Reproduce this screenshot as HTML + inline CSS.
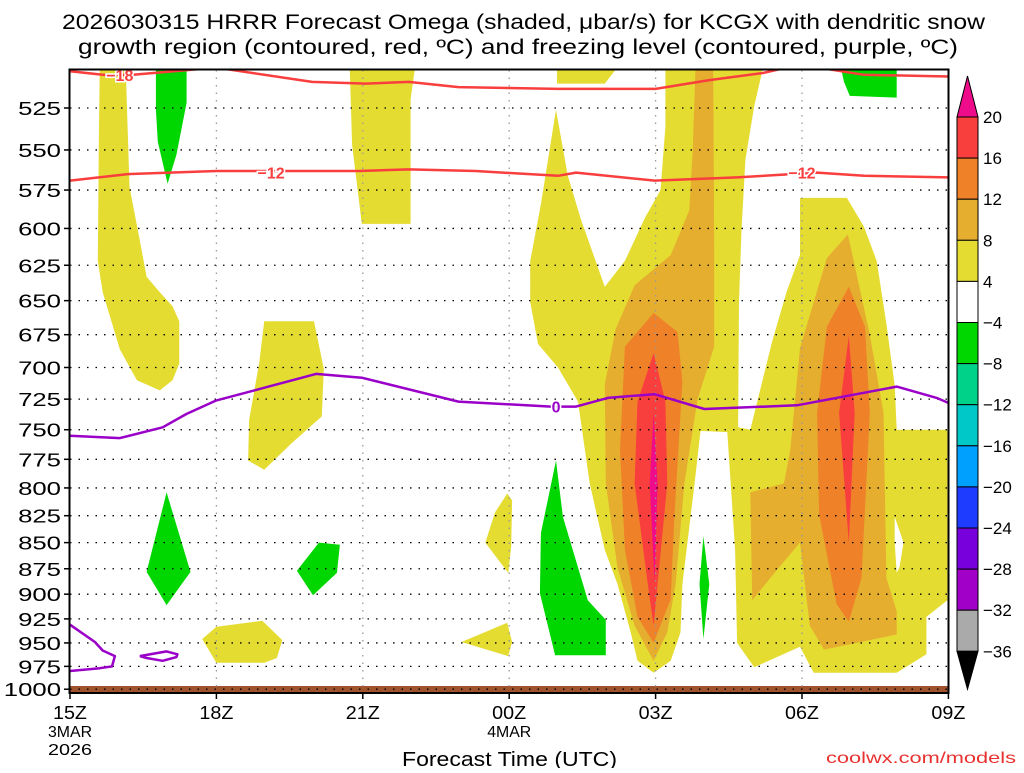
<!DOCTYPE html>
<html><head><meta charset="utf-8"><style>
body{margin:0;background:#fff;width:1024px;height:768px;overflow:hidden;font-family:"Liberation Sans",sans-serif}
svg text{font-family:"Liberation Sans",sans-serif}
</style></head><body>
<svg id="c" width="1024" height="768" xmlns="http://www.w3.org/2000/svg">
<text x="62" y="29" font-size="21" textLength="923" lengthAdjust="spacingAndGlyphs">2026030315 HRRR Forecast Omega (shaded, μbar/s) for KCGX with dendritic snow</text>
<text x="78" y="54" font-size="21" textLength="880" lengthAdjust="spacingAndGlyphs">growth region (contoured, red, ºC) and freezing level (contoured, purple, ºC)</text>
<defs><clipPath id="pc"><rect x="70" y="70" width="879" height="623"/></clipPath></defs>
<g id="fills" clip-path="url(#pc)"></g>
<g id="grid"></g>
<g id="lines" clip-path="url(#pc)"></g>
<rect x="69.5" y="69.5" width="879" height="623.5" fill="none" stroke="#000" stroke-width="2"/>
<g id="axes"></g>
<g id="cbar"></g>
<text x="826" y="763" font-size="16" fill="#e8312f" textLength="190" lengthAdjust="spacingAndGlyphs">coolwx.com/models</text>
<text x="402" y="766" font-size="20" textLength="215" lengthAdjust="spacingAndGlyphs">Forecast Time (UTC)</text>
</svg>
<script>
const NS="http://www.w3.org/2000/svg";
const pressureTicks=[525,550,575,600,625,650,675,700,725,750,775,800,825,850,875,900,925,950,975,1000];
const timeTicks=[0,3,6,9,12,15,18];
const timeLabels=["15Z","18Z","21Z","00Z","03Z","06Z","09Z"];
const cbarLevels=["20","16","12","8","4","−4","−8","−12","−16","−20","−24","−28","−32","−36"];
const cbarColors=["#f93e3e","#ef8229","#e5ae2e","#e5dc32","#ffffff","#00d700","#00d28a","#00c8c8","#00a0ff","#1e3cff","#7800dc","#a000c8","#aaaaaa"];
// omega shaded regions [hour since 15Z, hPa]
const yellowMain=[[12.2,500],[14.22,500],[14.02,524],[13.84,556],[13.76,601],[13.71,651],[13.69,748],[13.94,750],[14.39,680],[14.69,643],[14.96,618],[14.96,580],[15.92,580],[16.27,599],[16.53,622],[16.73,667],[16.9,714],[16.94,750],[17.98,750],[17.98,906],[17.55,923],[17.55,962],[16.94,982],[15.24,982],[14.96,954],[14.02,976],[13.67,950],[13.63,857],[13.47,752],[12.92,751],[12.8,796],[12.55,890],[12.51,939],[12.31,969],[11.96,982],[11.63,969],[11.49,939],[11.22,890],[10.96,857],[10.65,796],[10.41,727],[10.0,700],[9.59,682],[9.43,651],[9.43,622],[9.65,584],[9.96,526],[10.2,566],[10.47,594],[10.96,640],[11.37,622],[11.78,593],[12.1,575],[12.2,536]];
const yellowLeft=[[0.65,500],[1.14,500],[1.22,573],[1.43,608],[1.57,633],[1.84,644],[2.1,654],[2.24,665],[2.24,697],[2.1,710],[1.84,718],[1.37,710],[1.02,686],[0.67,644],[0.57,622],[0.59,546],[0.61,500]];
const yellow21z=[[5.73,500],[7.08,500],[6.98,520],[6.98,597],[5.98,597],[5.78,547]];
const yellow20z=[[3.98,665],[5.0,665],[5.2,701],[5.16,739],[4.55,761],[3.98,784],[3.65,776],[3.67,742],[3.88,696]];
const yellow19z=[[3.0,933],[3.94,927],[4.35,947],[4.24,966],[3.98,971],[3.0,971],[2.71,946]];
const yellow00zA=[[8.96,805],[9.06,811],[9.04,854],[8.98,879],[8.51,850],[8.71,822]];
const yellow00zB=[[8.02,949],[8.96,929],[9.06,949],[8.98,964]];
const yellowTop=[[9.98,500],[11.27,500],[10.96,511],[9.98,511]];
const whiteHole=[[16.9,826],[17.08,850],[17.0,873],[16.94,879],[16.9,850]];
const gold03z=[[12.82,500],[13.18,500],[13.2,614],[13.2,684],[12.86,725],[12.59,796],[12.41,890],[12.24,939],[11.96,969],[11.57,932],[11.22,874],[10.98,796],[10.96,713],[11.18,671],[11.57,639],[12.31,618],[12.69,588],[12.76,550]];
const gold06z=[[15.94,604],[16.39,675],[16.67,736],[16.73,884],[16.94,917],[16.94,941],[16.12,950],[15.45,957],[15.16,932],[14.96,850],[14.49,876],[13.98,906],[13.94,804],[14.63,796],[14.76,767],[14.96,685],[15.51,620]];
const orange03z=[[11.96,659],[12.45,673],[12.55,711],[12.39,823],[12.31,905],[11.96,950],[11.63,923],[11.37,857],[11.27,767],[11.37,684]];
const orange06z=[[15.96,640],[16.29,669],[16.39,736],[16.22,884],[15.96,928],[15.71,910],[15.35,824],[15.31,736],[15.51,669]];
const red03z=[[11.96,689],[12.2,727],[12.24,796],[12.04,890],[11.96,932],[11.84,890],[11.57,796],[11.63,727]];
const red06z=[[15.96,676],[16.08,736],[15.96,850],[15.76,736]];
const magenta03z=[[11.96,737],[12.04,796],[11.98,888],[11.88,796]];
const greenTop=[[1.76,500],[2.39,500],[2.39,522],[2.18,553],[2.0,571],[1.8,545],[1.76,526]];
const greenDiamond=[[1.98,804],[2.47,878],[1.98,911],[1.57,878]];
const greenMid=[[5.1,850],[5.53,852],[5.47,879],[4.98,901],[4.65,877]];
const green01z=[[9.96,776],[10.1,826],[10.61,906],[10.98,926],[10.98,963],[9.94,963],[9.63,899],[9.65,841]];
const green04z=[[12.98,844],[13.1,890],[12.98,946],[12.9,890]];
const greenTopRight=[[15.78,500],[16.94,500],[16.94,519],[15.98,518],[15.86,510]];
// contour lines
const freezing=[[0,755],[1.02,757],[1.9,748],[2.39,737],[3.0,726],[3.88,717],[5.04,705],[5.98,708],[7.96,727],[9.86,731],[10.37,731],[11.02,724],[11.98,721],[13.0,733],[14.9,730],[16.94,715],[17.76,724],[18,728]];
const freezingLow=[[0,931],[0.51,949],[0.67,958],[0.92,964],[0.86,975],[0.61,977],[0,980]];
const freezingLoop=[[1.43,964],[1.98,959],[2.2,962],[2.18,965],[1.9,969],[1.57,966],[1.43,964]];
const minus18=[[0,504],[0.67,506],[1.29,506],[3.0,502],[4.96,510],[6.06,511],[6.94,510],[7.96,513],[10,514],[12,514],[13.1,509],[14.2,505],[14.84,501],[15.57,503],[16.27,506],[18,507]];
const minus12=[[0,569],[1.16,565],[3.0,563],[5.92,563],[6.94,562],[8.31,563],[10,566],[10.37,564],[11.98,569],[13.67,567],[15.31,564],[16.27,566],[18,567]];
const contourLabels=[["−18",1.02,506,"#f93e3e"],["−12",4.12,564,"#f93e3e"],["−12",15.0,564,"#f93e3e"],["0",9.96,731,"#9a00c8"]];

function X(h){return 70+h*48.8;}
function Y(p){return 108+902*Math.log(p/525);}
function mk(tag,attrs,parent){const e=document.createElementNS(NS,tag);for(const k in attrs)e.setAttribute(k,attrs[k]);parent.appendChild(e);return e;}
function pts(a){return a.map(d=>X(d[0]).toFixed(1)+","+Y(d[1]).toFixed(1)).join(" ");}
const fillsG=document.getElementById("fills");
function poly(a,col,name){const e=mk("polygon",{points:pts(a),fill:col},fillsG);

}
poly(yellowMain,"#e5dc32","omega-4-8-main");
poly(yellowLeft,"#e5dc32","omega-4-8-left");
poly(yellow21z,"#e5dc32","omega-4-8-21z");
poly(yellow20z,"#e5dc32","omega-4-8-20z");
poly(yellow19z,"#e5dc32","omega-4-8-19z");
poly(yellow00zA,"#e5dc32","omega-4-8-00z-a");
poly(yellow00zB,"#e5dc32","omega-4-8-00z-b");
poly(yellowTop,"#e5dc32","omega-4-8-top");
poly(whiteHole,"#ffffff","omega-hole");
poly(gold03z,"#e5ae2e","omega-8-12-03z");
poly(gold06z,"#e5ae2e","omega-8-12-06z");
poly(orange03z,"#ef8229","omega-12-16-03z");
poly(orange06z,"#ef8229","omega-12-16-06z");
poly(red03z,"#f93e3e","omega-16-20-03z");
poly(red06z,"#f93e3e","omega-16-20-06z");
poly(magenta03z,"#ee0c8b","omega-20plus-03z");
poly(greenTop,"#00d700","omega-neg-top");
poly(greenDiamond,"#00d700","omega-neg-diamond");
poly(greenMid,"#00d700","omega-neg-mid");
poly(green01z,"#00d700","omega-neg-01z");
poly(green04z,"#00d700","omega-neg-04z");
poly(greenTopRight,"#00d700","omega-neg-top-right");
const gs=mk("rect",{x:70,y:686,width:879,height:7,fill:"#a0522d"},fillsG);



const gridG=document.getElementById("grid"),axesG=document.getElementById("axes");
pressureTicks.forEach(p=>{const y=Y(p);
const l=mk("line",{x1:70,x2:949,y1:y,y2:y,stroke:"#000","stroke-width":1.3,"stroke-dasharray":"1.5,7"},gridG);


const t=mk("line",{x1:64,x2:70,y1:y,y2:y,stroke:"#000","stroke-width":1.5},axesG);


const s=String(p),w=s.length*14.3;
const tx=mk("text",{x:61-w,y:y+7,"font-size":18,textLength:w,lengthAdjust:"spacingAndGlyphs"},axesG);tx.textContent=s;

});
timeTicks.forEach((h,i)=>{const x=X(h);
if(i>0&&i<timeTicks.length-1){const l=mk("line",{x1:x,x2:x,y1:70,y2:693,stroke:"#999","stroke-width":1.3,"stroke-dasharray":"1.5,6"},gridG);

}
const t=mk("line",{x1:x,x2:x,y1:693,y2:699,stroke:"#000","stroke-width":1.5},axesG);


const tx=mk("text",{x:x-17,y:719,"font-size":18,textLength:34,lengthAdjust:"spacingAndGlyphs"},axesG);tx.textContent=timeLabels[i];

});
[["3MAR",0,737],["2026",0,755],["4MAR",9,737]].forEach(d=>{const tx=mk("text",{x:X(d[1])-22,y:d[2],"font-size":16,textLength:44,lengthAdjust:"spacingAndGlyphs"},axesG);tx.textContent=d[0];

});

const linesG=document.getElementById("lines");
function pl(a,col,name){const e=mk("polyline",{points:pts(a),fill:"none",stroke:col,"stroke-width":2.5,"stroke-linejoin":"round"},linesG);

}
pl(freezing,"#9a00c8","freezing-level-0c");
pl(freezingLow,"#9a00c8","freezing-level-low");
pl(freezingLoop,"#9a00c8","freezing-level-loop");
pl(minus18,"#f93e3e","dgz-minus18");
pl(minus12,"#f93e3e","dgz-minus12");
contourLabels.forEach(d=>{const x=X(d[1]),y=Y(d[2]);
const t=mk("text",{x:x,y:y+6,"text-anchor":"middle","font-size":16,"font-weight":"bold",fill:d[3],stroke:"#fff","stroke-width":3,"paint-order":"stroke"},linesG);t.textContent=d[0];

});

const cbG=document.getElementById("cbar");const cbX=957,cbW=21,cbTop=117,cbStep=41.1;
const tri1=mk("polygon",{points:`${cbX},${cbTop} ${cbX+cbW},${cbTop} ${cbX+cbW/2},${cbTop-41}`,fill:"#ee0c8b",stroke:"#000","stroke-width":1},cbG);


cbarColors.forEach((c,i)=>{const r=mk("rect",{x:cbX,y:cbTop+i*cbStep,width:cbW,height:cbStep,fill:c,stroke:"#000","stroke-width":1},cbG);

});
const cbBot=cbTop+cbarColors.length*cbStep;
const tri2=mk("polygon",{points:`${cbX},${cbBot} ${cbX+cbW},${cbBot} ${cbX+cbW/2},${cbBot+38}`,fill:"#000",stroke:"#000","stroke-width":1},cbG);


cbarLevels.forEach((l,i)=>{const t=mk("text",{x:983,y:cbTop+i*cbStep+6,"font-size":17},cbG);t.textContent=l;

});
</script>
</body></html>
